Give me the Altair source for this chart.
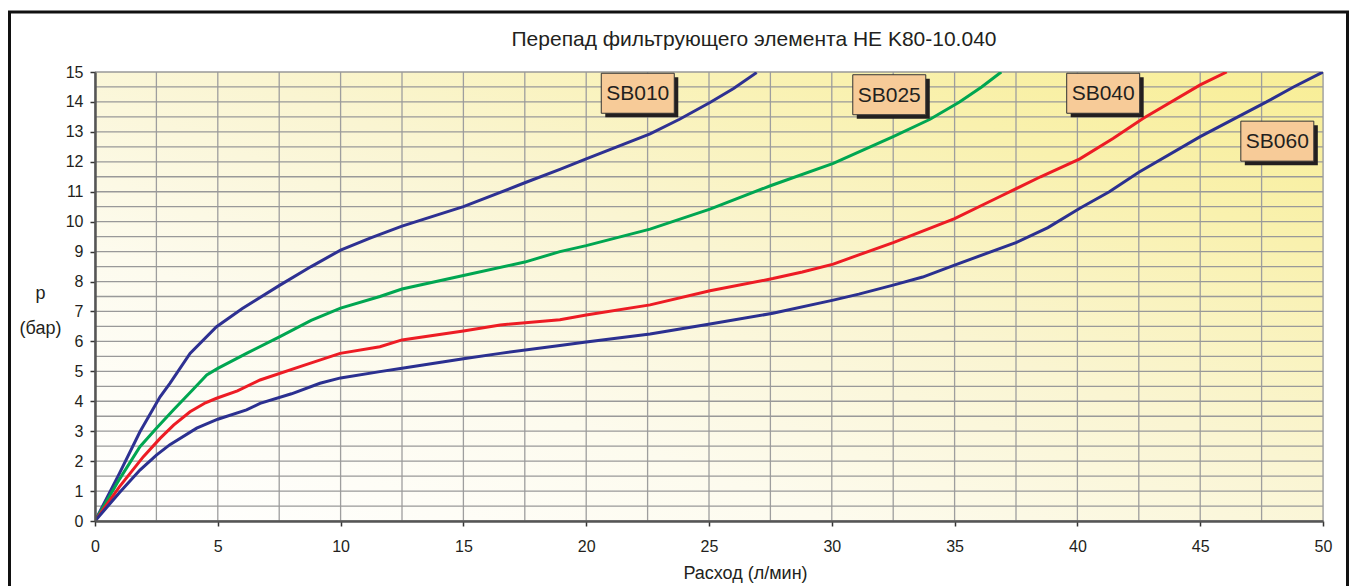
import altair as alt
import pandas as pd

# ---- data ----
sb010_x = [0, 1, 1.83, 2.65, 3.05, 3.87, 4.95, 6.0, 7.53, 8.8, 10, 11.2, 12.5, 15, 17.5, 18.93, 20, 22.6, 23.8, 25.04, 26.0, 26.94]
sb010_y = [0, 1.6, 2.98, 4.15, 4.6, 5.6, 6.49, 7.1, 7.88, 8.5, 9.05, 9.45, 9.85, 10.5, 11.3, 11.75, 12.1, 12.93, 13.42, 13.98, 14.45, 14.98]

sb025_x = [0, 1, 1.83, 2.5, 3.19, 4.0, 4.55, 5.0, 6.17, 7.53, 8.8, 10, 11.6, 12.5, 15, 17.5, 18.93, 20, 22.6, 25.04, 27.5, 30.06, 32.5, 34.0, 35.2, 36.1, 36.9]
sb025_y = [0, 1.4, 2.48, 3.1, 3.71, 4.4, 4.88, 5.1, 5.6, 6.16, 6.7, 7.11, 7.5, 7.75, 8.2, 8.65, 9.0, 9.2, 9.75, 10.42, 11.2, 11.95, 12.84, 13.42, 14.0, 14.5, 15.0]

sb040_x = [0, 1, 1.97, 2.65, 3.2, 3.87, 4.5, 4.95, 5.8, 6.72, 8.5, 9.98, 11.6, 12.5, 15, 16.5, 18.93, 20, 22.6, 25.04, 27.6, 28.8, 30.06, 31.1, 32.5, 35, 36.85, 38.5, 40.1, 41.45, 42.67, 45, 46.08]
sb040_y = [0, 1.15, 2.15, 2.76, 3.2, 3.65, 3.95, 4.1, 4.35, 4.71, 5.2, 5.6, 5.82, 6.05, 6.35, 6.55, 6.72, 6.88, 7.22, 7.69, 8.1, 8.32, 8.58, 8.89, 9.3, 10.1, 10.84, 11.5, 12.1, 12.78, 13.45, 14.57, 15.0]

sb060_x = [0, 1, 1.83, 2.5, 3.05, 4.14, 5, 6.17, 6.72, 8, 9.16, 10, 11.6, 12.5, 15, 16.5, 18.93, 20, 22.6, 25.04, 27.6, 30.06, 31.1, 32.5, 33.7, 35, 37.5, 38.8, 40.1, 41.3, 42.5, 45, 47.7, 48.8, 50]
sb060_y = [0, 0.95, 1.7, 2.2, 2.55, 3.1, 3.4, 3.71, 3.93, 4.25, 4.6, 4.78, 4.99, 5.1, 5.42, 5.6, 5.86, 5.98, 6.25, 6.58, 6.94, 7.38, 7.58, 7.88, 8.15, 8.55, 9.3, 9.8, 10.45, 11.0, 11.65, 12.84, 14.0, 14.5, 15.0]

series_names = ["SB010", "SB025", "SB040", "SB060"]
series_colors = ["#2E3192", "#00A651", "#ED1C24", "#2B3090"]

# label annotation anchors (data units)
label_names = ["SB010", "SB025", "SB040", "SB060"]
label_x = [22.1, 32.34, 41.05, 48.14]
label_y = [14.29, 14.24, 14.29, 12.69]

x_ticks = [0, 5, 10, 15, 20, 25, 30, 35, 40, 45, 50]
y_ticks = [i * 0.5 for i in range(31)]
x_grid = [i * 2.5 for i in range(21)]
y_grid = [i * 0.5 for i in range(31)]

TITLE = "Перепад фильтрующего элемента HE K80-10.040"
X_TITLE = "Расход (л/мин)"
Y_TITLE = ["p", "(бар)"]

FONT = "Liberation Sans"
W, H = 1228, 449

# ---- tables ----
rows = []
for name, xs, ys in zip(series_names,
                        [sb010_x, sb025_x, sb040_x, sb060_x],
                        [sb010_y, sb025_y, sb040_y, sb060_y]):
    for i, (a, b) in enumerate(zip(xs, ys)):
        rows.append({"series": name, "x": a, "y": b, "i": i})
lines_df = pd.DataFrame(rows)
labels_df = pd.DataFrame({"name": label_names, "x": label_x, "y": label_y})
bg_df = pd.DataFrame({"x": [0], "x2": [50], "y": [0], "y2": [15]})
vgrid_df = pd.DataFrame({"x": x_grid, "y": [0] * len(x_grid), "y2": [15] * len(x_grid)})
hgrid_df = pd.DataFrame({"y": y_grid, "x": [0] * len(y_grid), "x2": [50] * len(y_grid)})
one_df = pd.DataFrame({"t": [TITLE]})

xscale = alt.Scale(domain=[0, 50], nice=False, zero=False)
yscale = alt.Scale(domain=[0, 15], nice=False, zero=False)

X = alt.X("x:Q", scale=xscale, axis=alt.Axis(
    values=x_ticks, grid=False, title=X_TITLE, format="d", labelFlush=False,
    tickSize=5, tickColor="#333333", tickWidth=1.5,
    domainColor="#555555", domainWidth=2.5,
    labelPadding=12, labelFontSize=16, labelColor="#231F20", labelFont=FONT,
    titleFont=FONT, titleFontSize=18, titleFontWeight="normal", titleColor="#231F20",
    titleX=650, titleY=57, titleAlign="center", titleBaseline="alphabetic",
    zindex=1))
Y = alt.Y("y:Q", scale=yscale, axis=alt.Axis(
    values=y_ticks, grid=False, title=Y_TITLE, format="d", labelFlush=False,
    labelExpr="datum.value % 1 === 0 ? datum.label : ''",
    tickSize=5, tickColor="#333333", tickWidth=1.5,
    domainColor="#555555", domainWidth=2.5,
    labelPadding=7, labelFontSize=16, labelColor="#231F20", labelFont=FONT,
    titleFont=FONT, titleFontSize=18, titleFontWeight="normal", titleColor="#231F20",
    titleAngle=0, titleX=-55, titleY=226, titleAlign="center", titleBaseline="alphabetic",
    titleLineHeight=35, zindex=1))

gradient = alt.LinearGradient(
    gradient="linear",
    stops=[alt.GradientStop(color="#FFFFFF", offset=0),
           alt.GradientStop(color="#FDFBEE", offset=0.3),
           alt.GradientStop(color="#FAF5D2", offset=0.55),
           alt.GradientStop(color="#F9F1AE", offset=0.8),
           alt.GradientStop(color="#F8EE96", offset=1)],
    x1=0, y1=1, x2=1, y2=0)

bg = alt.Chart(bg_df).mark_rect(color=gradient).encode(
    x=X, x2="x2:Q", y=Y, y2="y2:Q")

vgrid = alt.Chart(vgrid_df).mark_rule(color="#9E9E9E", strokeWidth=1.3).encode(
    x=X, y=Y, y2="y2:Q")
hgrid = alt.Chart(hgrid_df).mark_rule(color="#999999", strokeWidth=1.3).encode(
    y=Y, x=X, x2="x2:Q")

lines = alt.Chart(lines_df).mark_line(strokeWidth=3, clip=True).encode(
    x=X, y=Y,
    color=alt.Color("series:N", scale=alt.Scale(domain=series_names, range=series_colors), legend=None),
    order="i:Q")

shadow = alt.Chart(labels_df).mark_rect(width=73, height=40, xOffset=4, yOffset=4, color="#231F20").encode(
    x=X, y=Y)
box = alt.Chart(labels_df).mark_rect(width=73, height=40, fill="#F7CB98", stroke="#333333", strokeWidth=1).encode(
    x=X, y=Y)
text = alt.Chart(labels_df).mark_text(fontSize=21, font=FONT, color="#231F20", align="center", baseline="middle", dy=1).encode(
    x=X, y=Y, text="name:N")

title = alt.Chart(one_df).mark_text(fontSize=21, font=FONT, color="#231F20", align="center", baseline="alphabetic").encode(
    x=alt.value(659), y=alt.value(-26), text="t:N")

frame = alt.Chart(one_df).mark_rect(fillOpacity=0, stroke="#111111", strokeWidth=3).encode(
    x=alt.value(-85.5), x2=alt.value(W + 24.5), y=alt.value(-60), y2=alt.value(H + 150))

chart = alt.layer(bg, vgrid, hgrid, lines, shadow, box, text, title, frame).properties(
    width=W, height=H,
    padding={"left": 0, "top": 2, "right": 0, "bottom": 0},
).configure_view(stroke=None).configure(background="white")

chart.save("out.html", embed_options={"renderer": "svg", "actions": False})
